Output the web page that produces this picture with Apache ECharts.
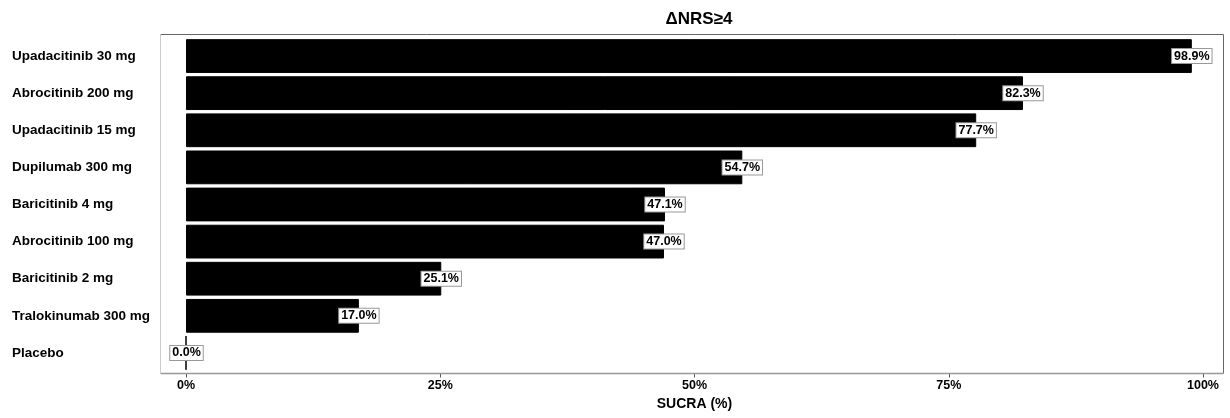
<!DOCTYPE html>
<html>
<head>
<meta charset="utf-8">
<style>
  html, body { margin: 0; padding: 0; background: #fff; }
  #chart { width: 1230px; height: 418px; }
</style>
<script src="https://cdn.jsdelivr.net/npm/echarts@6/dist/echarts.min.js"></script>
</head>
<body>
<div id="chart"></div>
<script>
// Treatments, ranked top to bottom
const treatments = [
  'Upadacitinib 30 mg',
  'Abrocitinib 200 mg',
  'Upadacitinib 15 mg',
  'Dupilumab 300 mg',
  'Baricitinib 4 mg',
  'Abrocitinib 100 mg',
  'Baricitinib 2 mg',
  'Tralokinumab 300 mg',
  'Placebo'
];
// SUCRA values (%)
const sucra = [98.9, 82.3, 77.7, 54.7, 47.1, 47.0, 25.1, 17.0, 0.0];
// X-axis ticks (%)
const xTicks = [0, 25, 50, 75, 100];

const FONT = 'Liberation Sans, Arial, sans-serif';
const chart = echarts.init(document.getElementById('chart'), null, { renderer: 'canvas' });

// Panel frame (drawn around the plotting region)
const frame = { x1: 160.5, y1: 34.5, x2: 1223.5, y2: 373.5 };

chart.setOption({
  animation: false,
  backgroundColor: '#fff',
  title: {
    text: 'ΔNRS≥4',
    left: 694,
    top: 6,
    textAlign: 'center',
    textStyle: { fontFamily: FONT, fontWeight: 'bold', fontSize: 17, color: '#000' }
  },
  grid: { left: 186, right: 27, top: 37.5, bottom: 46.5, containLabel: false },
  xAxis: {
    type: 'value',
    min: xTicks[0],
    max: xTicks[xTicks.length - 1],
    interval: 25,
    offset: 2,
    name: 'SUCRA (%)',
    nameLocation: 'middle',
    nameGap: 22,
    nameTextStyle: { fontFamily: FONT, fontWeight: 'bold', fontSize: 14, color: '#000' },
    axisLine: { show: false },
    axisTick: { show: true, length: 4, lineStyle: { color: '#555', width: 1 } },
    splitLine: { show: false },
    axisLabel: {
      fontFamily: FONT, fontWeight: 'bold', fontSize: 12.5, color: '#000', margin: 6,
      formatter: v => v + '%'
    }
  },
  yAxis: {
    type: 'category',
    data: treatments,
    inverse: true,
    axisLine: { show: false },
    axisTick: { show: false },
    splitLine: { show: false },
    axisLabel: {
      fontFamily: FONT, fontWeight: 'bold', fontSize: 13.5, color: '#000',
      align: 'left', margin: 174
    }
  },
  series: [{
    type: 'bar',
    data: sucra,
    barCategoryGap: '9%',
    itemStyle: { color: '#000', borderColor: '#000', borderWidth: 1 },
    label: {
      show: true,
      position: ['100%', '50%'],
      align: 'center',
      verticalAlign: 'middle',
      formatter: p => p.value.toFixed(1) + '%',
      fontFamily: FONT, fontWeight: 'bold', fontSize: 12.5, color: '#000',
      backgroundColor: '#fff',
      borderColor: '#999',
      borderWidth: 1,
      padding: [1, 2, 0, 2]
    }
  }],
  graphic: [
    { type: 'line', z: 10, shape: { x1: frame.x1, y1: frame.y1, x2: frame.x2, y2: frame.y1 }, style: { stroke: '#666', lineWidth: 1 } },
    { type: 'line', z: 10, shape: { x1: frame.x2, y1: frame.y1, x2: frame.x2, y2: frame.y2 }, style: { stroke: '#666', lineWidth: 1 } },
    { type: 'line', z: 10, shape: { x1: frame.x1, y1: frame.y2, x2: frame.x2, y2: frame.y2 }, style: { stroke: '#999', lineWidth: 1.5 } },
    { type: 'line', z: 10, shape: { x1: frame.x1, y1: frame.y1, x2: frame.x1, y2: frame.y2 }, style: { stroke: '#ccc', lineWidth: 1 } }
  ]
});
</script>
</body>
</html>
